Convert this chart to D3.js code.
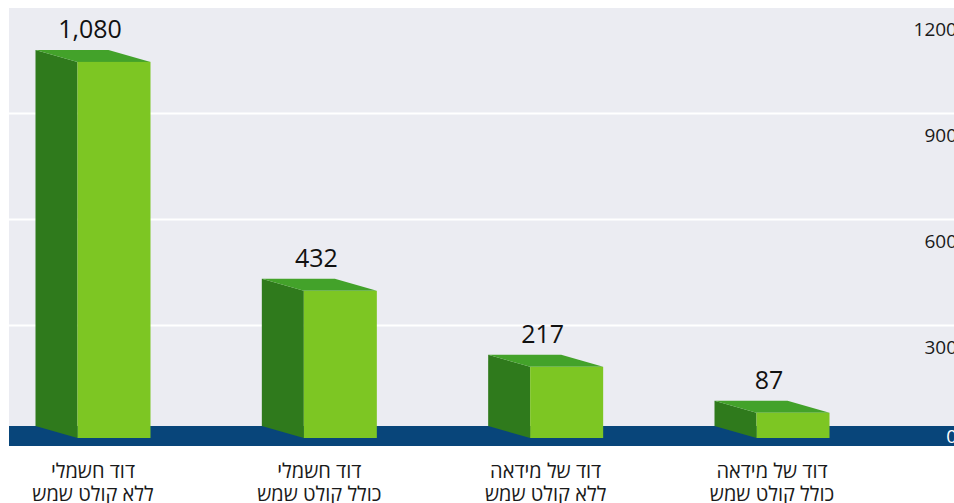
<!DOCTYPE html>
<html>
<head>
<meta charset="utf-8">
<script src="https://cdn.jsdelivr.net/npm/d3@7"></script>
<style>
  html, body { margin: 0; padding: 0; background: #ffffff; overflow: hidden; }
  svg { display: block; font-family: "Open Sans", "Noto Sans", "DejaVu Sans", sans-serif; }
</style>
</head>
<body>
<div id="chart"></div>
<script>
// Data
var categories = [
  ["דוד חשמלי", "ללא קולט שמש"],
  ["דוד חשמלי", "כולל קולט שמש"],
  ["דוד של מידאה", "ללא קולט שמש"],
  ["דוד של מידאה", "כולל קולט שמש"]
];
var values = [1080, 432, 217, 87];
var valueLabels = ["1,080", "432", "217", "87"];
var tickValues = [0, 300, 600, 900, 1200];

// SVG area
var svgWidth = 954;
var svgHeight = 503;

// plot area (back wall)
var plot = { left: 9, top: 8, right: 954, floor: 426, bandBottom: 446 };

// 3D box settings
var frontWidth = 73;
var depthX = 42;
var depthY = 12;

var svg = d3.select("#chart")
    .append("svg")
    .attr("width", svgWidth)
    .attr("height", svgHeight);

// value scale for the back wall
var yScale = d3.scaleLinear()
    .domain([0, 1200])
    .range([431.5, 7.5]);

// category centers
var xScale = d3.scalePoint()
    .domain(d3.range(categories.length))
    .range([93, 772]);

// background wall
svg.append("rect")
    .attr("x", plot.left)
    .attr("y", plot.top)
    .attr("width", plot.right - plot.left)
    .attr("height", plot.floor - plot.top)
    .attr("fill", "#ebecf2");

// gridlines
svg.selectAll(".grid")
    .data(tickValues.filter(d => d > 0 && d < 1200))
    .enter()
    .append("line")
    .attr("class", "grid")
    .attr("x1", plot.left)
    .attr("x2", plot.right)
    .attr("y1", d => yScale(d))
    .attr("y2", d => yScale(d))
    .attr("stroke", "#ffffff")
    .attr("stroke-width", 2);

// floor band
svg.append("rect")
    .attr("x", plot.left)
    .attr("y", plot.floor)
    .attr("width", plot.right - plot.left)
    .attr("height", plot.bandBottom - plot.floor)
    .attr("fill", "#08457a");

// tick labels on the right (cut at the edge like the original)
svg.selectAll(".tick")
    .data(tickValues)
    .enter()
    .append("text")
    .attr("class", "tick")
    .attr("x", 957)
    .attr("y", d => Math.min(yScale(d) + 22, 436))
    .attr("dy", "0.35em")
    .attr("text-anchor", "end")
    .attr("font-size", "19px")
    .attr("fill", d => d === 0 ? "#ffffff" : "#1a1a1a")
    .text(d => d);

// bars as 3D boxes
var bars = svg.selectAll(".bar")
    .data(values)
    .enter()
    .append("g")
    .attr("class", "bar");

function backLeft(i) { return xScale(i) - (frontWidth + depthX) / 2; }

// side face
bars.append("polygon")
    .attr("fill", "#2f7a1c")
    .attr("points", function(d, i) {
        var x0 = backLeft(i), x1 = x0 + depthX;
        var yt = yScale(d), yb = plot.floor;
        return [[x0, yt], [x1, yt + depthY], [x1, yb + depthY], [x0, yb]].join(" ");
    });

// top face
bars.append("polygon")
    .attr("fill", "#43a22a")
    .attr("points", function(d, i) {
        var x0 = backLeft(i);
        var yt = yScale(d);
        return [[x0, yt], [x0 + frontWidth, yt], [x0 + frontWidth + depthX, yt + depthY], [x0 + depthX, yt + depthY]].join(" ");
    });

// front face
bars.append("rect")
    .attr("fill", "#7dc623")
    .attr("x", (d, i) => backLeft(i) + depthX)
    .attr("y", d => yScale(d) + depthY)
    .attr("width", frontWidth)
    .attr("height", d => plot.floor - yScale(d));

// value labels
svg.selectAll(".value")
    .data(valueLabels)
    .enter()
    .append("text")
    .attr("class", "value")
    .attr("x", (d, i) => xScale(i) - 3)
    .attr("y", (d, i) => yScale(values[i]) - 12)
    .attr("text-anchor", "middle")
    .attr("font-size", "25px")
    .attr("fill", "#111111")
    .text(d => d);

// category labels (two lines)
var catGroup = svg.selectAll(".cat")
    .data(categories)
    .enter()
    .append("text")
    .attr("class", "cat")
    .attr("text-anchor", "middle")
    .attr("direction", "rtl")
    .attr("font-size", "20px")
    .attr("fill", "#1a1a1a");

catGroup.selectAll("tspan")
    .data((d, i) => d.map(t => ({ t: t, i: i })))
    .enter()
    .append("tspan")
    .attr("x", d => xScale(d.i))
    .attr("y", (d, j) => 478 + j * 23)
    .text(d => d.t);
</script>
</body>
</html>
